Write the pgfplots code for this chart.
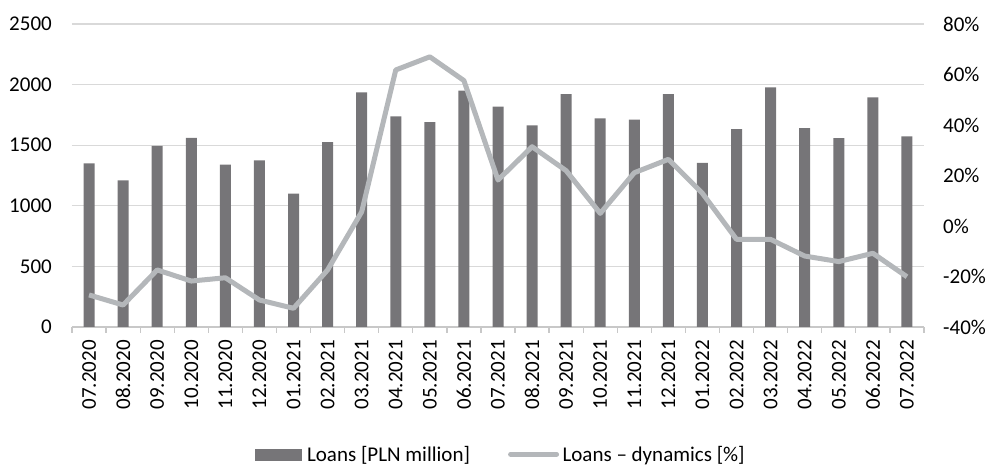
\documentclass[border=0pt]{standalone}
\usepackage{fontspec}
\setmainfont{Carlito}
\usepackage{pgfplots}
\usepackage{pgfplotstable}
\pgfplotsset{compat=1.18}

\definecolor{barcol}{HTML}{767578}
\definecolor{linecol}{HTML}{B4B7BA}
\definecolor{gridcol}{HTML}{D9D9D9}
\definecolor{axiscol}{HTML}{C8C8C8}

% month index, loans [PLN million], year-on-year dynamics [%]
\pgfplotstableread{
idx loans dyn
0  1350 -27.3
1  1210 -31.3
2  1495 -17.4
3  1560 -21.8
4  1340 -20.5
5  1375 -29.3
6  1100 -32.6
7  1525 -17.4
8  1935 5.6
9  1738 61.8
10 1690 67.0
11 1950 57.6
12 1818 18.2
13 1664 31.4
14 1922 21.9
15 1722 5.0
16 1711 21.1
17 1922 26.4
18 1355 12.9
19 1632 -5.3
20 1977 -5.3
21 1640 -11.9
22 1558 -14.1
23 1895 -10.8
24 1572 -20.1
}\loandata

\newcommand{\chartfont}{\fontsize{21}{25}\selectfont}

\begin{document}
\begin{tikzpicture}[font=\chartfont]
\useasboundingbox (0,0) rectangle (989pt,466pt);

% bars: loans on the left axis
\begin{axis}[
  at={(72pt,139pt)}, anchor=south west,
  scale only axis, width=852pt, height=303pt,
  xmin=-0.5, xmax=24.5, ymin=0, ymax=2500,
  axis x line*=bottom, axis y line*=left,
  x axis line style={-, draw=axiscol, line width=1.3pt},
  y axis line style={draw=none},
  xtick={0,...,24},
  xticklabels={07.2020,08.2020,09.2020,10.2020,11.2020,12.2020,
    01.2021,02.2021,03.2021,04.2021,05.2021,06.2021,07.2021,08.2021,
    09.2021,10.2021,11.2021,12.2021,01.2022,02.2022,03.2022,04.2022,
    05.2022,06.2022,07.2022},
  minor xtick={-0.5,0.5,...,24.5},
  tick align=outside,
  major tick length=0pt,
  minor tick length=6pt,
  minor x tick style={draw=axiscol, line width=1.3pt},
  ytick={0,500,...,2500},
  yticklabels={0,500,1000,1500,2000,2500},
  ytick style={draw=none},
  ymajorgrids,
  major grid style={draw=gridcol, line width=1.2pt},
  xticklabel style={font=\chartfont, inner sep=0pt, yshift=-13pt, rotate=90, anchor=east},
  yticklabel style={font=\chartfont, inner sep=0pt, anchor=east, xshift=-20pt},
]
\addplot[ybar, bar width=11pt, fill=barcol, draw=none] table[x=idx, y=loans] {\loandata};
\end{axis}

% line: dynamics on the right axis, with the legend for both series
\begin{axis}[
  at={(72pt,139pt)}, anchor=south west,
  scale only axis, width=852pt, height=303pt,
  xmin=-0.5, xmax=24.5, ymin=-40, ymax=80,
  axis x line=none, axis y line*=right,
  y axis line style={draw=none},
  ytick={-40,-20,...,80},
  yticklabels={-40\%,-20\%,0\%,20\%,40\%,60\%,80\%},
  ytick style={draw=none},
  major tick length=0pt,
  yticklabel style={font=\chartfont, inner sep=0pt, anchor=west, xshift=19pt},
  legend columns=2,
  legend style={draw=none, fill=none, font=\chartfont,
    at={(0.502,-0.420)}, anchor=center,
    inner sep=0pt,
    nodes={inner sep=0pt},
    /tikz/every even column/.append style={column sep=38pt}},
]
\addlegendimage{legend image code/.code={
  \fill[barcol] (0pt,-5.5pt) rectangle (46pt,5.5pt);
  \path (52pt,0pt);}}
\addlegendentry{Loans [PLN million]}
\addplot[draw=linecol, line width=5pt, line join=round,
  legend image code/.code={
    \draw[linecol, line width=5pt, line cap=round] (2.5pt,0pt) -- (48.5pt,0pt);
    \path (52pt,0pt);}]
  table[x=idx, y=dyn] {\loandata};
\addlegendentry{Loans -- dynamics [\%]}
\end{axis}
\end{tikzpicture}
\end{document}
